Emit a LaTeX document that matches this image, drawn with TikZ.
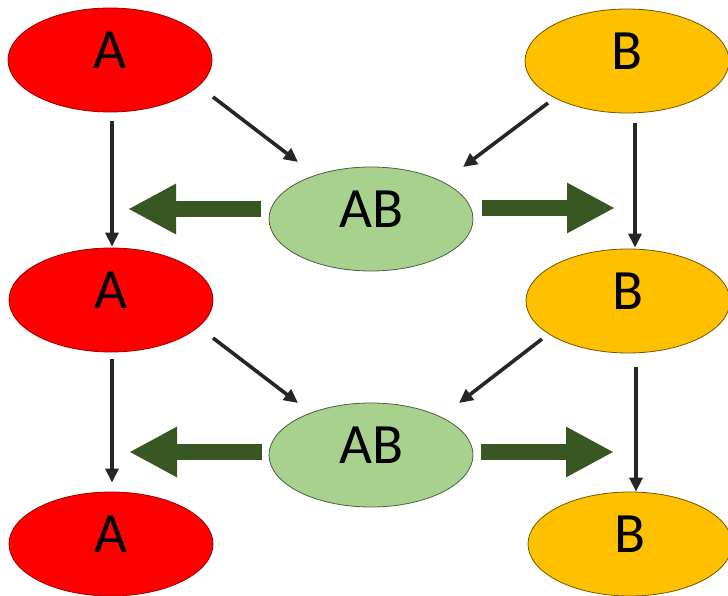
\documentclass[tikz,border=0pt]{standalone}
\usepackage{fontspec}
\setmainfont{Carlito}
\usetikzlibrary{arrows.meta,shapes.geometric}
\definecolor{redA}{RGB}{255,0,0}
\definecolor{goldB}{RGB}{255,192,0}
\definecolor{greenAB}{RGB}{169,209,142}
\definecolor{darkgr}{RGB}{56,87,35}
\definecolor{arrgray}{RGB}{38,38,38}

\begin{document}
\begin{tikzpicture}[x=1pt,y=-1pt,
        cell/.style={ellipse,minimum width=204pt,minimum height=104pt,inner sep=0pt,
            text depth=20pt,line width=.8pt,font=\fontsize{57}{60}\selectfont},
        link/.style={draw=arrgray,line width=3.6pt,-{Triangle[length=14pt,width=13pt]}},
        push/.style={draw=darkgr,line width=16pt,-{Triangle[length=48pt,width=47pt]}}]
        \useasboundingbox (0,0) rectangle (728,596);

        % ellipses
        \node[cell,fill=redA,draw=redA!60!black] (A1) at (110,60) {A};
        \node[cell,fill=redA,draw=redA!60!black] (A2) at (111,300) {A};
        \node[cell,fill=redA,draw=redA!60!black] (A3) at (111,544) {A};
        \node[cell,fill=goldB,draw=goldB!45!black] (B1) at (627,61) {B};
        \node[cell,fill=goldB,draw=goldB!45!black] (B2) at (628,301) {B};
        \node[cell,fill=goldB,draw=goldB!45!black] (B3) at (630,544) {B};
        \node[cell,fill=greenAB,draw=greenAB!45!black] (AB1) at (371,219) {AB};
        \node[cell,fill=greenAB,draw=greenAB!45!black] (AB2) at (371,455) {AB};

        % free ends of the block arrows
        \coordinate (L1) at (128,209);
        \coordinate (R1) at (615,208);
        \coordinate (L2) at (129,452);
        \coordinate (R2) at (614,452);

        % thin arrows
        \draw[link] ([shift={(2,9)}]A1.south) -- ([shift={(1,-1)}]A2.north);
        \draw[link] ([shift={(1,7)}]A2.south) -- ([shift={(1,-9)}]A3.north);
        \draw[link] ([shift={(8,10)}]B1.south) -- ([shift={(7,-1)}]B2.north);
        \draw[link] ([shift={(8,14)}]B2.south) -- ([shift={(6,0)}]B3.north);

        \draw[link] ([shift={(103,37)}]A1.center) -- ([shift={(-73,-57)}]AB1.center);
        \draw[link] ([shift={(102,38)}]A2.center) -- ([shift={(-73,-52)}]AB2.center);
        \draw[link] ([shift={(-79,42)}]B1.center) -- ([shift={(92,-52)}]AB1.center);
        \draw[link] ([shift={(-86,38)}]B2.center) -- ([shift={(88,-52)}]AB2.center);

        % block arrows
        \draw[push] ([shift={(-8,-10)}]AB1.west) -- (L1);
        \draw[push] ([shift={(9,-11)}]AB1.east) -- (R1);
        \draw[push] ([shift={(-7,-3)}]AB2.west) -- (L2);
        \draw[push] ([shift={(8,-3)}]AB2.east) -- (R2);
\end{tikzpicture}
\end{document}
